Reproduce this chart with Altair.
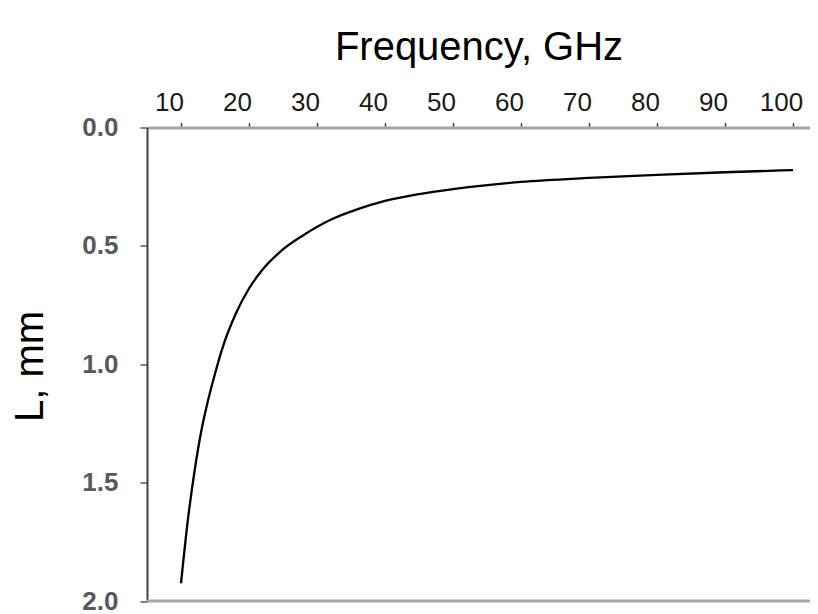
import altair as alt
import pandas as pd

# Frequency (GHz) and L (mm)
freq = [10, 11, 12, 13, 14, 15, 16, 18, 20, 22, 25, 28, 32, 36, 40, 45, 50,
        60, 70, 80, 90, 100]
length = [1.925, 1.66, 1.45, 1.28, 1.15, 1.04, 0.94, 0.79, 0.68, 0.60, 0.515, 0.455,
          0.39, 0.345, 0.31, 0.281, 0.26, 0.23, 0.213, 0.200, 0.189, 0.180]

x_ticks = [10, 20, 30, 40, 50, 60, 70, 80, 90, 100]
y_ticks = [0.0, 0.5, 1.0, 1.5, 2.0]

df = pd.DataFrame({"f": freq, "L": length})
bottom = pd.DataFrame({"y": [2.0]})

FONT = "Liberation Sans"

xscale = alt.Scale(domain=[5, 102.5], nice=False, zero=False)
yscale = alt.Scale(domain=[0, 2], reverse=True, nice=False)

line = alt.Chart(df).mark_line(color="black", strokeWidth=2.3, interpolate="monotone").encode(
    x=alt.X("f:Q", scale=xscale,
            axis=alt.Axis(orient="top", values=x_ticks, title="Frequency, GHz",
                          grid=False, domainColor="#a6a6a6", domainWidth=3,
                          tickColor="#404040", tickWidth=1.5, tickSize=5,
                          labelFont=FONT, labelFontSize=26, labelColor="#1a1a1a",
                          labelPadding=7, labelOffset=-12,
                          titleFont=FONT, titleFontSize=40, titleFontWeight="normal",
                          titleColor="black", titleY=-68.5, titleBaseline="alphabetic")),
    y=alt.Y("L:Q", scale=yscale,
            axis=alt.Axis(values=y_ticks, format=".1f", title="L, mm",
                          grid=False, domainColor="#404040", domainWidth=2,
                          tickColor="#595959", tickWidth=1.5, tickSize=7,
                          labelFont=FONT, labelFontSize=26, labelFontWeight="bold",
                          labelColor="#595959", labelPadding=22,
                          titleFont=FONT, titleFontSize=40, titleFontWeight="normal",
                          titleColor="black", titleX=-117, titleY=238.5,
                          titleBaseline="middle", titleAngle=270)),
)

rule = alt.Chart(bottom).mark_rule(color="#a6a6a6", strokeWidth=3).encode(
    y=alt.Y("y:Q", scale=yscale)
)

chart = alt.layer(rule, line).properties(
    width=663, height=473.5,
    autosize=alt.AutoSizeParams(type="none"),
    padding={"left": 139, "top": 119.5, "right": 0, "bottom": 20},
).configure_view(stroke=None).configure(background="white")

chart.save("out.html", embed_options={"renderer": "svg", "actions": False})
